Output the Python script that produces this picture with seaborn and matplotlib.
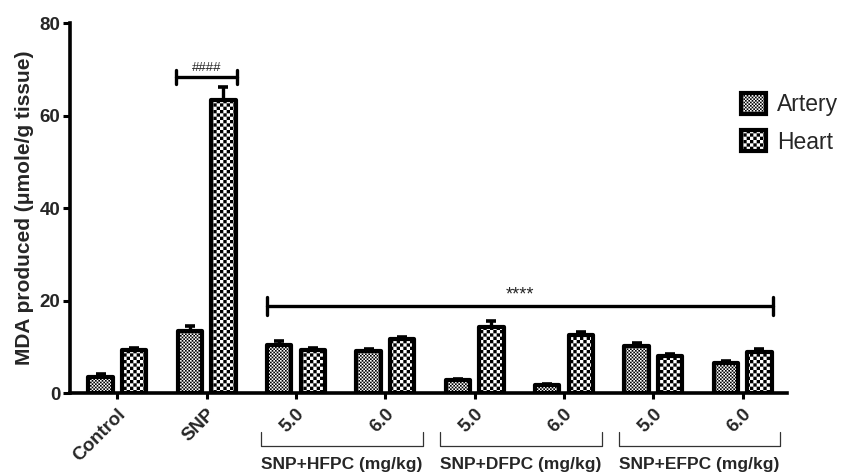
import matplotlib
matplotlib.use("Agg")
import matplotlib.pyplot as plt
import matplotlib.hatch as mhatch
from matplotlib.path import Path
from matplotlib.patches import Patch
import numpy as np
import pandas as pd
import seaborn as sns

# --- data ---
groups = ["Control", "SNP", "HFPC 5.0", "HFPC 6.0", "DFPC 5.0", "DFPC 6.0", "EFPC 5.0", "EFPC 6.0"]
tick_labels = ["Control", "SNP", "5.0", "6.0", "5.0", "6.0", "5.0", "6.0"]
artery = [3.4, 13.5, 10.5, 9.1, 2.8, 1.7, 10.1, 6.5]
artery_err = [0.7, 0.9, 0.8, 0.5, 0.3, 0.3, 0.7, 0.5]
heart = [9.4, 63.4, 9.4, 11.8, 14.3, 12.5, 8.0, 8.9]
heart_err = [0.4, 2.9, 0.4, 0.4, 1.2, 0.6, 0.4, 0.6]
dose_groups = ["SNP+HFPC (mg/kg)", "SNP+DFPC (mg/kg)", "SNP+EFPC (mg/kg)"]


# checkerboard hatch: n cells per hatch tile = 2 * count of 'o'
class CheckerHatch(mhatch.HatchPatternBase):
    def __init__(self, hatch, density):
        self.n = 2 * hatch.count('o')
        self.num_vertices = (self.n * self.n // 2) * 5

    def set_vertices_and_codes(self, vertices, codes):
        s = 1.0 / self.n
        i, j = np.indices((self.n, self.n))
        mask = (i + j) % 2 == 0
        origins = np.stack([i[mask] * s, j[mask] * s], axis=1)
        sq = np.array([[0, 0], [1, 0], [1, 1], [0, 1], [0, 0]]) * s
        vertices[:] = (sq[None, :, :] + origins[:, None, :]).reshape(-1, 2)
        codes[:] = np.tile([Path.MOVETO, Path.LINETO, Path.LINETO,
                            Path.LINETO, Path.CLOSEPOLY], len(origins))


mhatch._hatch_types = [CheckerHatch]
fine_hatch = 'o' * 30
coarse_hatch = 'o' * 15

sns.set_theme(style="ticks")
plt.rcParams['font.family'] = ['Liberation Sans', 'DejaVu Sans']
plt.rcParams['hatch.linewidth'] = 0.0
plt.rcParams['hatch.color'] = 'black'

df = pd.DataFrame({
    'group': groups * 2,
    'tissue': ['Artery'] * len(groups) + ['Heart'] * len(groups),
    'value': artery + heart,
})

fig = plt.figure(figsize=(8.48, 4.73), dpi=100)
ax = fig.add_axes([0.0825, 0.169, 0.846, 0.782])

sns.barplot(data=df, x='group', y='value', hue='tissue', order=groups,
            hue_order=['Artery', 'Heart'], palette=['white', 'white'],
            errorbar=None, width=0.75, gap=0.27, edgecolor='black',
            linewidth=3.0, legend=False, ax=ax, zorder=3)

for cont, hatch, vals, errs in zip(ax.containers, [fine_hatch, coarse_hatch],
                                   [artery, heart], [artery_err, heart_err]):
    xs = []
    for p in cont:
        p.set_hatch(hatch)
        p.set_joinstyle('round')
        xs.append(p.get_x() + p.get_width() / 2)
    ax.errorbar(xs, vals, yerr=[np.zeros(len(vals)), errs], fmt='none',
                ecolor='black', elinewidth=2.4, capsize=3.3, capthick=2.6, zorder=2)

ax.set_xlim(-0.53, 7.5)
ax.set_ylim(0, 80)
ax.set_yticks([0, 20, 40, 60, 80])
ax.set_xticks(range(len(groups)))
ax.set_xticklabels(tick_labels, rotation=45, ha='right', va='top',
                   rotation_mode='anchor', fontsize=13.5, fontweight='bold')
for lab in ax.get_yticklabels():
    lab.set_fontweight('bold')
    lab.set_fontsize(13.5)
ax.tick_params(axis='y', length=5, width=2.2, pad=2, color='black')
ax.tick_params(axis='x', length=4, width=2.2, pad=5, color='black')
sns.despine(ax=ax)
for side in ['left', 'bottom']:
    ax.spines[side].set_linewidth(2.6)
    ax.spines[side].set_color('black')
ax.set_xlabel('')
ax.set_ylabel('MDA produced (\u03bcmole/g tissue)', fontsize=15, fontweight='bold', labelpad=4)

# significance brackets
def bracket(x0, x1, y, h, text, fs):
    ax.plot([x0, x1], [y, y], color='black', lw=2.4, clip_on=False, zorder=4)
    ax.plot([x0, x0], [y - h, y + h], color='black', lw=2.4, clip_on=False, zorder=4)
    ax.plot([x1, x1], [y - h, y + h], color='black', lw=2.4, clip_on=False, zorder=4)
    ax.text((x0 + x1) / 2, y + 0.6, text, ha='center', va='bottom', fontsize=fs)

bracket(1 - 0.34, 1 + 0.34, 68.3, 1.5, '####', 9.5)
bracket(2 - 0.33, 7 + 0.34, 18.8, 2.0, '****', 13)

# dose group brackets below the axis
trans = ax.get_xaxis_transform()
for k, name in enumerate(dose_groups):
    x0 = 2 + 2 * k - 0.39
    x1 = 3 + 2 * k + 0.42
    ax.plot([x0, x0, x1, x1], [-0.105, -0.143, -0.143, -0.105], color='#333333',
            lw=0.9, transform=trans, clip_on=False)
    ax.text((x0 + x1) / 2, -0.172, name, transform=trans, ha='center', va='top',
            fontsize=12.5, fontweight='bold')

handles = [Patch(facecolor='white', edgecolor='black', linewidth=3.0, hatch=fine_hatch, label='Artery'),
           Patch(facecolor='white', edgecolor='black', linewidth=3.0, hatch=coarse_hatch, label='Heart')]
fig.legend(handles=handles, loc='upper left', bbox_to_anchor=(0.874, 0.803),
           frameon=False, fontsize=16.5, handlelength=1.1, handleheight=1.0,
           handletextpad=0.45, labelspacing=0.62, borderpad=0, borderaxespad=0)

plt.savefig('out.png', dpi=100)
